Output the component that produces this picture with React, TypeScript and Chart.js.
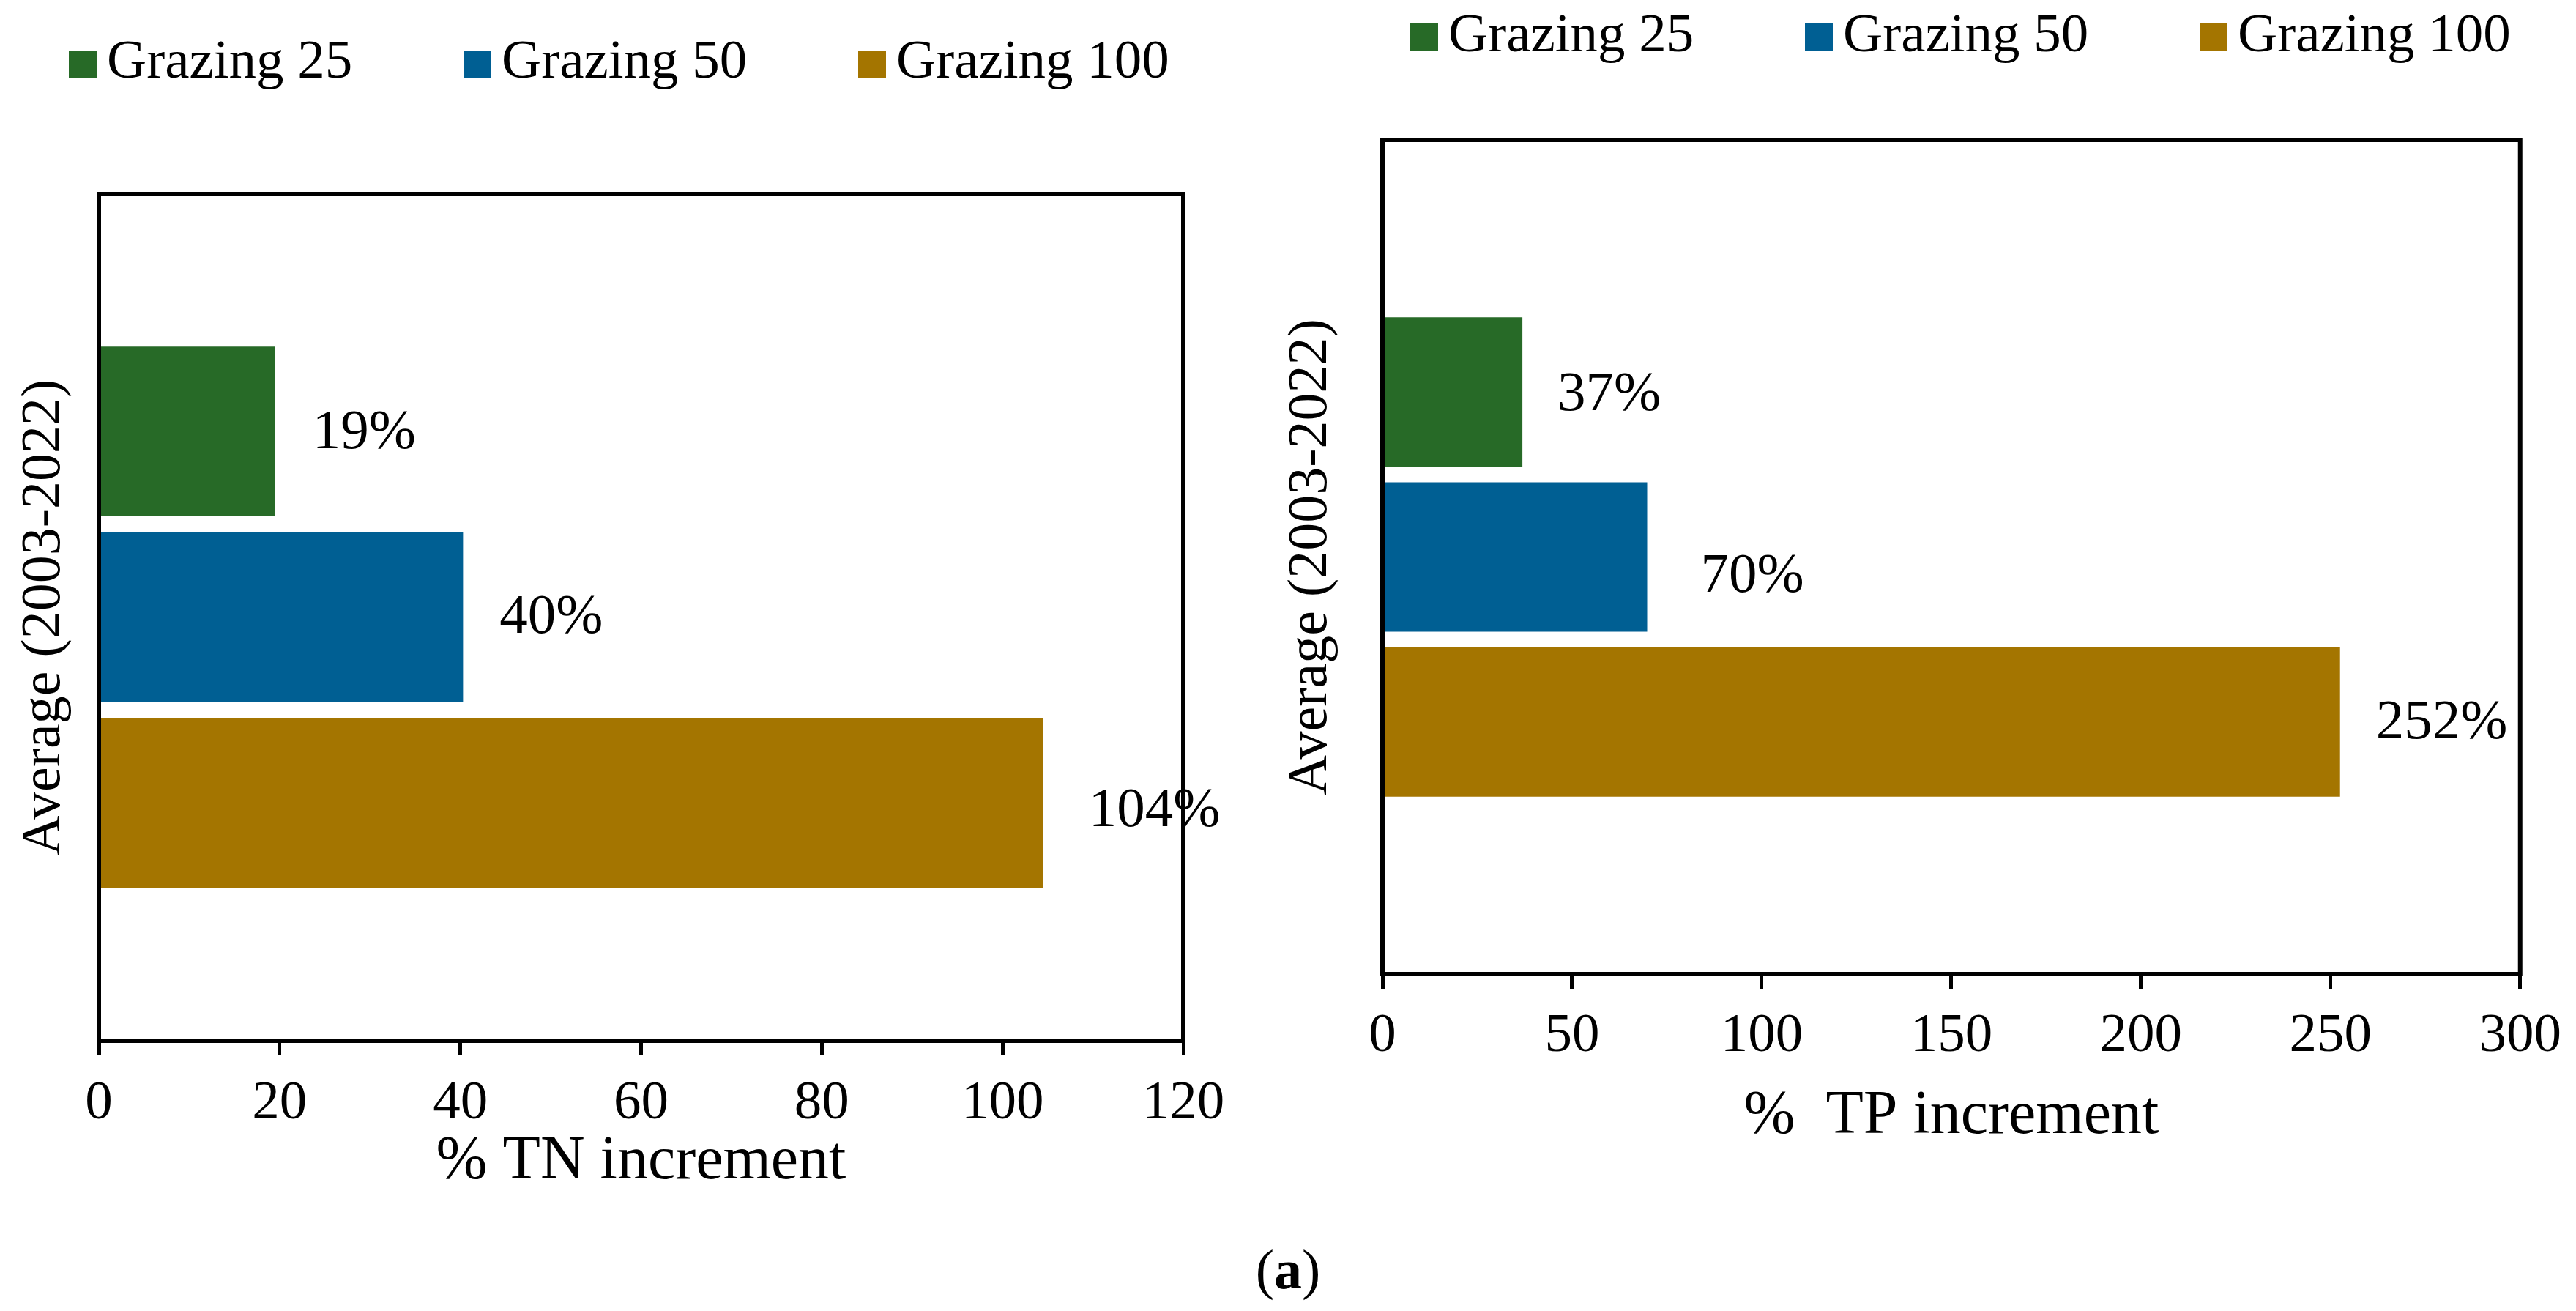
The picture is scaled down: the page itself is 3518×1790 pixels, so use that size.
import React, { useEffect, useRef } from "react";
import { Chart, registerables } from "chart.js";

Chart.register(...registerables);

// ---- data ----
const categories = ["Average (2003-2022)"];
const seriesNames = ["Grazing 25", "Grazing 50", "Grazing 100"];
const seriesColors = ["#276A27", "#005F93", "#A47500"];
const tnValues = [19.5, 40.3, 104.5];
const tpValues = [36.9, 69.8, 252.5];
const tnLabels = ["19%", "40%", "104%"];
const tpLabels = ["37%", "70%", "252%"];
const tnTickStep = 20;
const tnMax = 120;
const tpTickStep = 50;
const tpMax = 300;
const tnAxisTitle = "% TN increment";
const tpAxisTitle = "%  TP increment";
const panelLetter = "a";

const FONT = "'Liberation Serif', 'Times New Roman', serif";

const framePlugin = {
  id: "frame",
  afterDatasetsDraw(chart: any) {
    const { ctx, chartArea: a } = chart;
    ctx.save();
    ctx.strokeStyle = "#000";
    ctx.lineWidth = 6;
    ctx.strokeRect(a.left, a.top, a.right - a.left, a.bottom - a.top);
    ctx.restore();
  },
};

const valueLabelPlugin = {
  id: "valueLabels",
  afterDatasetsDraw(chart: any, _args: any, opts: any) {
    const { ctx } = chart;
    ctx.save();
    ctx.font = `${opts.size}px ${FONT}`;
    ctx.fillStyle = "#000";
    ctx.textBaseline = "middle";
    ctx.textAlign = "left";
    chart.data.datasets.forEach((_ds: any, i: number) => {
      const meta = chart.getDatasetMeta(i);
      const nudge = (opts.nudges && opts.nudges[i]) || [0, 0];
      meta.data.forEach((el: any) => {
        const { x, y } = el.getProps(["x", "y"], true);
        ctx.fillText(opts.labels[i], x + opts.dx + nudge[0], y + opts.dy + nudge[1]);
      });
    });
    ctx.restore();
  },
};

const boxLegendPlugin = {
  id: "boxLegend",
  afterDraw(chart: any, _args: any, opts: any) {
    const { ctx } = chart;
    ctx.save();
    ctx.font = `${opts.size}px ${FONT}`;
    ctx.textBaseline = "middle";
    ctx.textAlign = "left";
    chart.data.datasets.forEach((ds: any, i: number) => {
      const x = opts.x + i * opts.stride;
      ctx.fillStyle = ds.backgroundColor;
      ctx.fillRect(x, opts.boxY, opts.box, opts.box);
      ctx.fillStyle = "#000";
      ctx.fillText(ds.label, x + opts.box + opts.gap, opts.textY);
    });
    ctx.restore();
  },
};

function makeConfig(p: any): any {
  return {
    type: "bar",
    data: {
      labels: categories,
      datasets: seriesNames.map((name, i) => ({
        label: name,
        data: [p.values[i]],
        backgroundColor: seriesColors[i],
        borderWidth: 0,
        categoryPercentage: p.catPct,
        barPercentage: p.barPct,
      })),
    },
    options: {
      indexAxis: "y",
      animation: false,
      responsive: false,
      devicePixelRatio: 1,
      layout: { padding: { top: p.top, right: p.right, bottom: 0, left: 0 } },
      plugins: {
        legend: { display: false },
        tooltip: { enabled: false },
        valueLabels: { labels: p.labels, size: 77, dx: 50, dy: 2, nudges: p.nudges },
        boxLegend: {
          x: p.legendX,
          boxY: p.legendBoxY,
          textY: p.legendTextY,
          stride: 539,
          box: 38,
          gap: 14,
          size: 75,
        },
      },
      scales: {
        x: {
          type: "linear",
          min: 0,
          max: p.max,
          ticks: {
            stepSize: p.step,
            color: "#000",
            padding: p.tickPad,
            font: { family: FONT, size: 75 },
          },
          grid: {
            drawOnChartArea: false,
            drawTicks: true,
            tickLength: 20,
            lineWidth: 5,
            color: "#000",
          },
          border: { display: false },
          title: {
            display: true,
            text: p.xTitle,
            color: "#000",
            font: { family: FONT, size: 84 },
            padding: { top: 0, bottom: p.titlePad },
          },
          afterFit(scale: any) {
            scale.height = p.xHeight;
          },
        },
        y: {
          type: "category",
          ticks: { display: false },
          grid: { display: false },
          border: { display: false },
          title: {
            display: true,
            text: categories[0],
            color: "#000",
            font: { family: FONT, size: 76 },
            padding: { top: 15, bottom: 0 },
          },
          afterFit(scale: any) {
            scale.width = p.yWidth;
          },
        },
      },
    },
    plugins: [framePlugin, valueLabelPlugin, boxLegendPlugin],
  };
}

export default function App() {
  const leftRef = useRef<HTMLCanvasElement | null>(null);
  const rightRef = useRef<HTMLCanvasElement | null>(null);

  useEffect(() => {
    document.body.style.margin = "0";
    document.body.style.overflow = "hidden";
    const left = new Chart(
      leftRef.current as HTMLCanvasElement,
      makeConfig({
        values: tnValues,
        labels: tnLabels,
        max: tnMax,
        step: tnTickStep,
        xTitle: tnAxisTitle,
        catPct: 0.659,
        barPct: 0.913,
        top: 265,
        right: 114,
        yWidth: 135,
        xHeight: 369,
        titlePad: 153,
        tickPad: 21,
        legendX: 94,
        legendBoxY: 69,
        legendTextY: 86,
        nudges: [[1, 1], [0, -1], [12, 9]],
      })
    );
    const right = new Chart(
      rightRef.current as HTMLCanvasElement,
      makeConfig({
        values: tpValues,
        labels: tpLabels,
        max: tpMax,
        step: tpTickStep,
        xTitle: tpAxisTitle,
        catPct: 0.593,
        barPct: 0.907,
        top: 191,
        right: 71,
        yWidth: 158,
        xHeight: 460,
        titlePad: 215,
        tickPad: 20,
        legendX: 196,
        legendBoxY: 32,
        legendTextY: 50,
        nudges: [[-2, 2], [23, 25], [-1, 0]],
      })
    );
    return () => {
      left.destroy();
      right.destroy();
    };
  }, []);

  return (
    <div
      style={{
        position: "absolute",
        left: 0,
        top: 0,
        width: 3518,
        height: 1790,
        background: "#fff",
        overflow: "hidden",
      }}
    >
      <canvas
        ref={leftRef}
        width={1730}
        height={1790}
        style={{ position: "absolute", left: 0, top: 0, width: 1730, height: 1790 }}
      />
      <canvas
        ref={rightRef}
        width={1788}
        height={1790}
        style={{ position: "absolute", left: 1730, top: 0, width: 1788, height: 1790 }}
      />
      <div
        style={{
          position: "absolute",
          left: 0,
          top: 1695,
          width: 3518,
          textAlign: "center",
          fontFamily: FONT,
          fontSize: 76,
          lineHeight: "76px",
          color: "#000",
        }}
      >
        (<b>{panelLetter}</b>)
      </div>
    </div>
  );
}
